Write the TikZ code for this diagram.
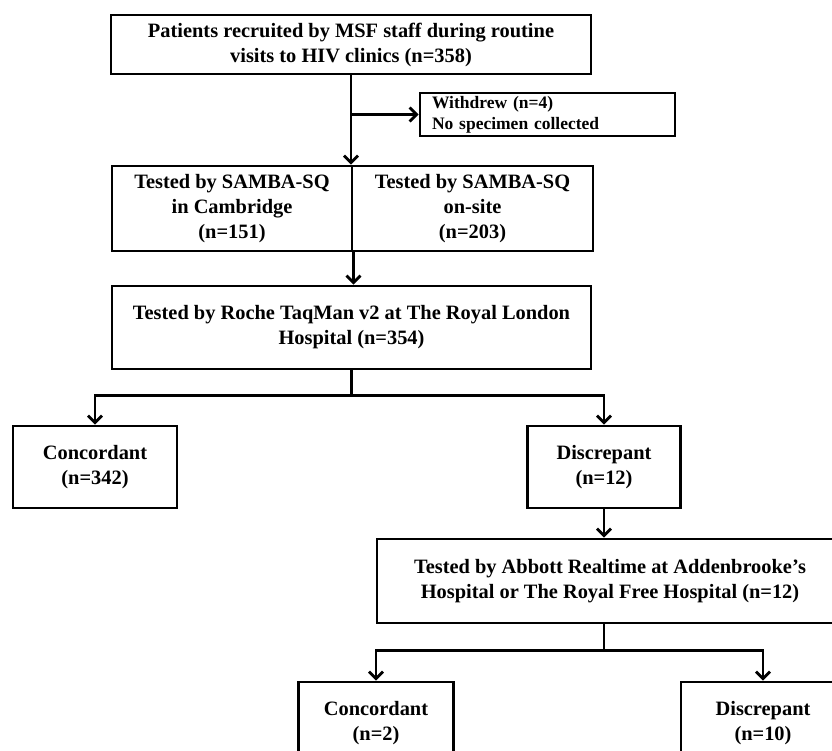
\documentclass[tikz,border=0pt]{standalone}
\usepackage{fontspec}
\setmainfont{Liberation Serif}
\usetikzlibrary{arrows.meta}
\begin{document}
\begin{tikzpicture}[x=1pt,y=-1pt,
  box/.style={draw, line width=2.8pt, rectangle, align=center, inner sep=0pt,
    font=\fontsize{20.4}{25}\selectfont\bfseries},
  arr/.style={line width=2.8pt, -{Straight Barb[length=7pt,width=14pt]}},
  ln/.style={line width=2.8pt}]
\useasboundingbox (0,0) rectangle (832,751);
\node[box, minimum width=480pt, minimum height=59pt] (top) at (351,44.5)
  {Patients recruited by MSF staff during routine\\visits to HIV clinics (n=358)};
\node[box, font=\fontsize{17.5}{21}\selectfont\bfseries, align=left, text width=231pt,
  inner xsep=12pt, minimum width=255pt, minimum height=43pt] (wd) at (547.5,114.5)
  {Withdrew (n=4)\\No specimen collected};
\node[box, minimum width=240pt, minimum height=85pt] (sambaL) at (232,208.5)
  {Tested by SAMBA-SQ\\in Cambridge\\(n=151)};
\node[box, minimum width=241pt, minimum height=85pt] (sambaR) at (472.5,208.5)
  {Tested by SAMBA-SQ\\on-site\\(n=203)};
\node[box, minimum width=479pt, minimum height=83pt] (taq) at (351.5,327.5)
  {Tested by Roche TaqMan v2 at The Royal London\\Hospital (n=354)};
\node[box, minimum width=164pt, minimum height=82pt] (conc1) at (95,467)
  {Concordant\\(n=342)};
\node[box, minimum width=153pt, minimum height=82pt] (disc1) at (604,467)
  {Discrepant\\(n=12)};
\node[box, minimum width=466pt, minimum height=84pt] (abb) at (610,581)
  {Tested by Abbott Realtime at Addenbrooke’s\\Hospital or The Royal Free Hospital (n=12)};
\node[box, minimum width=155pt, minimum height=82pt] (conc2) at (376,723)
  {Concordant\\(n=2)};
\node[box, minimum width=164pt, minimum height=82pt] (disc2) at (763,723)
  {Discrepant\\(n=10)};
\draw[arr] (top.south) -- (top.south |- sambaL.north);
\draw[arr] (top.south |- wd.west) -- (wd.west);
\draw[arr] (sambaL.south east) -- (sambaL.south east |- taq.north);
\draw[ln] (taq.south) -- ++(0,25) coordinate (j1);
\draw[arr] (j1) -| (conc1.north);
\draw[arr] (j1) -| (disc1.north);
\draw[arr] (disc1.south) -- (disc1.south |- abb.north);
\draw[ln] (disc1.south |- abb.south) -- ++(0,26) coordinate (j2);
\draw[arr] (j2) -| (conc2.north);
\draw[arr] (j2) -| (disc2.north);
\end{tikzpicture}
\end{document}
